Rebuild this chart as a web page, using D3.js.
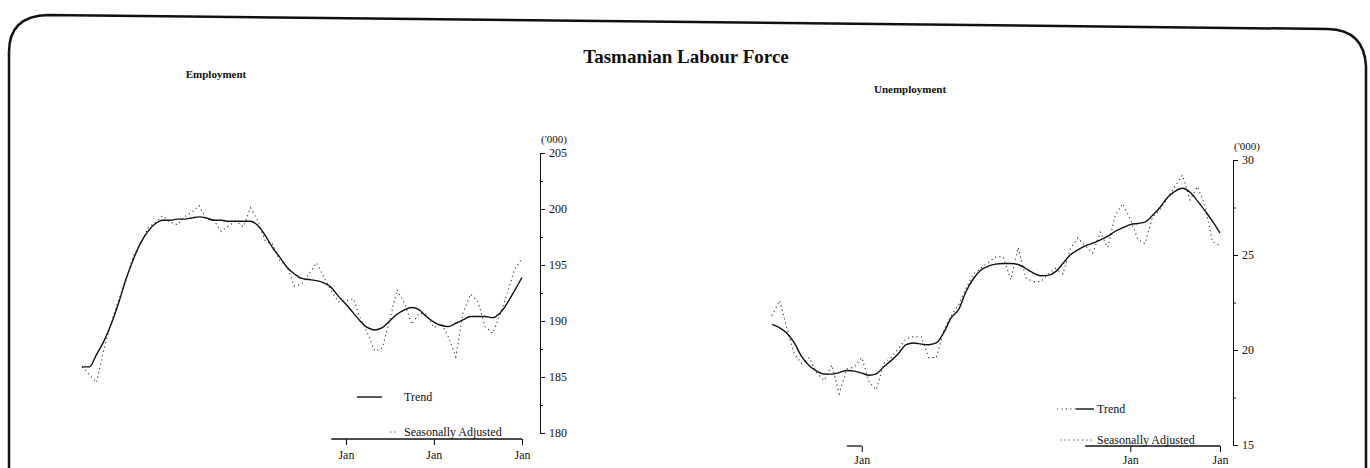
<!DOCTYPE html>
<html>
<head>
<meta charset="utf-8">
<title>Tasmanian Labour Force</title>
<script src="https://d3js.org/d3.v7.min.js"></script>
<style>
  body { margin: 0; background: #fff; }
  svg text { font-family: "Liberation Serif", "Times New Roman", serif; fill: #111; }
</style>
</head>
<body>
<div id="chart"></div>
<script>
// monthly series, Jan 1988 to Jan 1993 ('000 persons)
var firstMonth = new Date(1988, 0, 1);
var lastMonth = new Date(1993, 0, 1);

var empTrend = [185.9, 185.9, 187.0, 188.2, 189.7, 191.6, 193.7, 195.5, 197.0, 198.0,
  198.7, 199.0, 199.0, 199.1, 199.1, 199.2, 199.3, 199.2, 199.0, 199.0,
  198.9, 198.9, 198.9, 198.9, 198.5, 197.6, 196.6, 195.7, 194.8, 194.2,
  193.8, 193.7, 193.6, 193.4, 193.0, 192.2, 191.5, 190.7, 190.0, 189.4,
  189.2, 189.4, 190.0, 190.6, 191.0, 191.2, 191.0, 190.4, 189.9, 189.6,
  189.5, 189.8, 190.1, 190.4, 190.4, 190.4, 190.3, 190.7, 191.6, 192.7, 193.9];

var empSA = [185.9, 185.2, 184.5, 187.5, 189.8, 191.9, 193.6, 195.8, 196.9, 198.3,
  198.8, 199.4, 198.8, 198.6, 199.3, 199.7, 200.3, 199.1, 199.0, 198.0,
  198.5, 198.9, 198.4, 200.1, 198.9, 197.1, 196.9, 195.4, 194.9, 193.1,
  193.3, 194.2, 195.2, 193.9, 192.7, 191.7, 191.8, 192.0, 190.3, 188.9,
  187.3, 187.6, 190.0, 192.8, 191.6, 189.7, 190.7, 190.6, 189.4, 189.8,
  188.6, 186.8, 190.7, 192.4, 191.8, 189.5, 188.9, 190.5, 192.5, 194.6, 195.6];

var unempTrend = [21.35, 21.17, 20.9, 20.37, 19.65, 19.17, 18.89, 18.74, 18.73, 18.81,
  18.92, 18.89, 18.78, 18.67, 18.74, 19.12, 19.44, 19.83, 20.28, 20.37,
  20.31, 20.28, 20.37, 20.9, 21.7, 22.15, 23.04, 23.75, 24.2, 24.41,
  24.52, 24.55, 24.55, 24.5, 24.29, 24.06, 23.91, 23.93, 24.11, 24.55,
  25.0, 25.27, 25.48, 25.62, 25.8, 25.98, 26.25, 26.43, 26.6, 26.66,
  26.73, 27.09, 27.5, 28.03, 28.35, 28.51, 28.3, 27.85, 27.32, 26.78, 26.16];

var unempSA = [21.8, 22.6, 21.2, 19.8, 19.3, 19.6, 18.8, 18.4, 19.2, 17.7,
  19.0, 19.1, 19.6, 18.3, 17.9, 19.3, 19.6, 20.1, 20.6, 20.7,
  20.7, 19.6, 19.6, 21.0, 21.8, 22.4, 23.2, 24.0, 24.3, 24.6,
  24.9, 24.9, 23.7, 25.4, 23.8, 23.6, 23.6, 24.0, 24.3, 24.0,
  25.3, 25.9, 25.5, 25.1, 26.2, 25.4, 27.1, 27.7, 26.9, 25.8,
  25.6, 27.0, 27.4, 28.0, 28.6, 29.2, 27.9, 28.6, 27.6, 25.7, 25.5];

var empTicks = [180, 185, 190, 195, 200, 205];
var empMinor = [182.5, 187.5, 192.5, 197.5, 202.5];
var unempTicks = [15, 20, 25, 30];
var unempMinor = [17.5, 22.5, 27.5];
var empJanTicks = [new Date(1991, 0, 1), new Date(1992, 0, 1), new Date(1993, 0, 1)];
var unempJanTicks = [new Date(1989, 0, 1), new Date(1992, 0, 1), new Date(1993, 0, 1)];
var legendLabels = ["Trend", "Seasonally Adjusted"];

var months = d3.range(empTrend.length).map(function(i) { return d3.timeMonth.offset(firstMonth, i); });

var width = 1370, height = 468;
var svg = d3.select("#chart").append("svg")
  .attr("width", width)
  .attr("height", height);

// scanned page border
svg.append("path")
  .attr("d", "M9,470 L9,52 Q9,16 48,15 L1328,29 Q1364,30 1366,66 L1366,470")
  .attr("fill", "none")
  .attr("stroke", "#111")
  .attr("stroke-width", 2.5);

svg.append("text")
  .attr("x", 686).attr("y", 63)
  .attr("text-anchor", "middle")
  .style("font-size", "19px")
  .style("font-weight", "bold")
  .text("Tasmanian Labour Force");

function drawPanel(cfg) {
  var x = d3.scaleTime().domain([firstMonth, lastMonth]).range(cfg.xRange);
  var y = d3.scaleLinear().domain(cfg.yDomain).range(cfg.yRange);
  var g = svg.append("g");

  g.append("text")
    .attr("x", cfg.titleX).attr("y", cfg.titleY)
    .attr("text-anchor", "middle")
    .style("font-size", "11px")
    .style("font-weight", "bold")
    .text(cfg.title);

  // y axis on the right
  var yAxis = g.append("g")
    .attr("transform", "translate(" + cfg.axisX + ",0)")
    .call(d3.axisRight(y).tickValues(cfg.ticks).tickSize(5).tickSizeOuter(0).tickPadding(4).tickFormat(d3.format("d")));
  yAxis.selectAll("text").style("font-size", "12px");
  g.append("g")
    .attr("transform", "translate(" + cfg.axisX + ",0)")
    .call(d3.axisRight(y).tickValues(cfg.minor).tickSize(3).tickFormat(""))
    .select(".domain").remove();
  g.selectAll(".domain, .tick line").attr("stroke", "#111");

  g.append("text")
    .attr("x", cfg.axisX + 1).attr("y", y(cfg.yDomain[1]) - 10)
    .style("font-size", "11px")
    .text("('000)");

  // x axis, only the parts that survive on the page
  var xAxis = g.append("g")
    .attr("transform", "translate(0," + cfg.xAxisY + ")")
    .call(d3.axisBottom(x).tickValues(cfg.janTicks).tickSize(6).tickSizeOuter(0).tickPadding(3).tickFormat(function() { return "Jan"; }));
  xAxis.select(".domain").remove();
  xAxis.selectAll("text").style("font-size", "12px").attr("dy", cfg.janDy);
  cfg.axisPieces.forEach(function(p) {
    xAxis.append("line")
      .attr("x1", x(p[0])).attr("x2", x(p[1]))
      .attr("stroke", "#111").attr("stroke-width", 1.3);
  });

  var lineTrend = d3.line()
    .x(function(d, i) { return x(months[i]); })
    .y(function(d) { return y(d); })
    .curve(d3.curveMonotoneX);
  var lineSA = d3.line()
    .x(function(d, i) { return x(months[i]); })
    .y(function(d) { return y(d); });

  g.append("path")
    .datum(cfg.sa)
    .attr("d", lineSA)
    .attr("fill", "none")
    .attr("stroke", "#333")
    .attr("stroke-width", 1.1)
    .attr("stroke-dasharray", "1.2 3.2");

  g.append("path")
    .datum(cfg.trend)
    .attr("d", lineTrend)
    .attr("fill", "none")
    .attr("stroke", "#111")
    .attr("stroke-width", 1.4);

  // legend
  var lg = cfg.legend;
  lg.trendSolid.forEach(function(s) {
    g.append("line").attr("x1", s[0]).attr("x2", s[1]).attr("y1", lg.y[0]).attr("y2", lg.y[0])
      .attr("stroke", "#111").attr("stroke-width", 1.4);
  });
  lg.trendDotted.forEach(function(s) {
    g.append("line").attr("x1", s[0]).attr("x2", s[1]).attr("y1", lg.y[0]).attr("y2", lg.y[0])
      .attr("stroke", "#333").attr("stroke-width", 1.1).attr("stroke-dasharray", "1.2 3.2");
  });
  lg.saDotted.forEach(function(s) {
    g.append("line").attr("x1", s[0]).attr("x2", s[1]).attr("y1", lg.y[1]).attr("y2", lg.y[1])
      .attr("stroke", "#333").attr("stroke-width", 1.1).attr("stroke-dasharray", "1.2 3.2");
  });
  legendLabels.forEach(function(label, i) {
    g.append("text")
      .attr("x", lg.textX).attr("y", lg.y[i])
      .attr("dy", "0.35em")
      .style("font-size", "12px")
      .text(label);
  });
}

drawPanel({
  title: "Employment", titleX: 216, titleY: 78,
  trend: empTrend, sa: empSA,
  yDomain: [180, 205], yRange: [433, 153],
  ticks: empTicks, minor: empMinor,
  xRange: [82, 522], axisX: 540, xAxisY: 439,
  janTicks: empJanTicks, janDy: "0.95em",
  axisPieces: [[new Date(1990, 10, 1), lastMonth]],
  legend: {
    y: [397, 432], textX: 404,
    trendSolid: [[357, 382]], trendDotted: [],
    saDotted: [[390, 396]]
  }
});

drawPanel({
  title: "Unemployment", titleX: 910, titleY: 93,
  trend: unempTrend, sa: unempSA,
  yDomain: [15, 30], yRange: [445, 160],
  ticks: unempTicks, minor: unempMinor,
  xRange: [772, 1220], axisX: 1233, xAxisY: 446,
  janTicks: unempJanTicks, janDy: "0.72em",
  axisPieces: [[new Date(1988, 10, 1), new Date(1989, 0, 1)], [new Date(1991, 6, 1), lastMonth]],
  legend: {
    y: [409, 440], textX: 1097,
    trendSolid: [[1076, 1094]], trendDotted: [[1057, 1076]],
    saDotted: [[1060, 1094]]
  }
});
</script>
</body>
</html>
